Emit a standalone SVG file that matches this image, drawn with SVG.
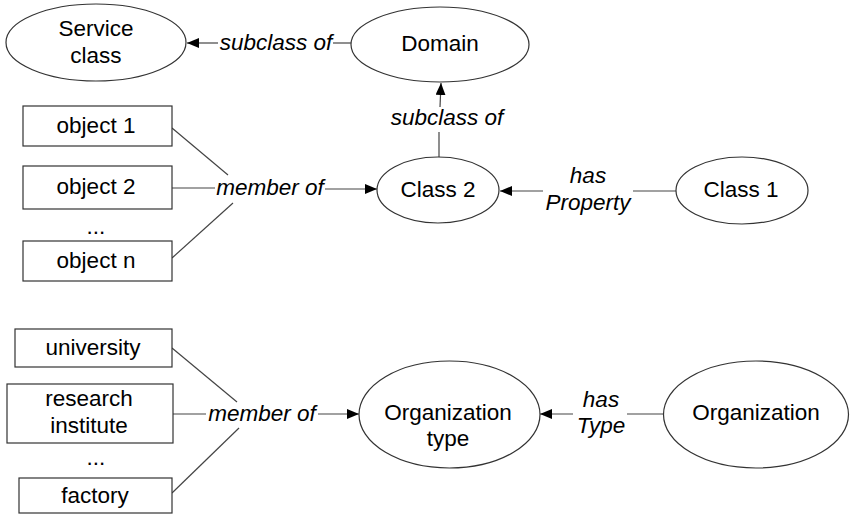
<svg xmlns="http://www.w3.org/2000/svg" width="850" height="515" viewBox="0 0 850 515">
  <style>
    .node ellipse, .node rect { fill: #ffffff; stroke: #333333; stroke-width: 1.2; }
    .lbl { font-family: "Liberation Sans", Arial, sans-serif; font-size: 22.5px; fill: #000000; text-anchor: middle; }
    .edge { font-family: "Liberation Sans", Arial, sans-serif; font-size: 22.5px; font-style: italic; fill: #000000; text-anchor: middle; }
    .conn line { stroke: #444444; stroke-width: 1.2; fill: none; }
  </style>
  <defs>
    <marker id="arrow" markerUnits="userSpaceOnUse" markerWidth="13" markerHeight="10" refX="12" refY="5" orient="auto">
      <path d="M0,0 L12,5 L0,10 z" fill="#000000"/>
    </marker>
  </defs>
  <rect width="850" height="515" fill="#ffffff"/>

  <!-- connectors -->
  <g id="connectors" class="conn">
    <!-- Domain subclass of Service class -->
    <line x1="351" y1="43" x2="333" y2="43"/>
    <line x1="218" y1="43" x2="187" y2="43" marker-end="url(#arrow)"/>
    <!-- Class 2 subclass of Domain -->
    <line x1="439" y1="157" x2="439" y2="132"/>
    <line x1="440" y1="107" x2="441" y2="83" marker-end="url(#arrow)"/>
    <!-- objects member of Class 2 -->
    <line x1="172" y1="128" x2="228" y2="175"/>
    <line x1="172" y1="188" x2="215" y2="188"/>
    <line x1="172" y1="258" x2="233" y2="203"/>
    <line x1="325" y1="189" x2="377" y2="189" marker-end="url(#arrow)"/>
    <!-- Class 1 has Property Class 2 -->
    <line x1="676" y1="191" x2="633" y2="191"/>
    <line x1="543" y1="191" x2="500" y2="191" marker-end="url(#arrow)"/>
    <!-- instances member of Organization type -->
    <line x1="172" y1="348" x2="237" y2="402"/>
    <line x1="173" y1="414" x2="206" y2="414"/>
    <line x1="172" y1="493" x2="239" y2="428"/>
    <line x1="318" y1="414" x2="359" y2="414" marker-end="url(#arrow)"/>
    <!-- Organization has Type Organization type -->
    <line x1="663" y1="414" x2="627" y2="414"/>
    <line x1="573" y1="414" x2="540" y2="414" marker-end="url(#arrow)"/>
  </g>

  <!-- connector labels -->
  <g id="edge-labels">
    <text class="edge" x="276" y="50">subclass of</text>
    <text class="edge" x="447" y="125">subclass of</text>
    <text class="edge" x="270" y="195">member of</text>
    <text class="edge" x="588" y="183">has</text>
    <text class="edge" x="588" y="210">Property</text>
    <text class="edge" x="262" y="421">member of</text>
    <text class="edge" x="601" y="407">has</text>
    <text class="edge" x="601" y="433">Type</text>
  </g>

  <!-- upper model -->
  <g id="service-class" class="node">
    <ellipse cx="96" cy="42.5" rx="90" ry="38.5"/>
    <text class="lbl" x="96" y="36">Service</text>
    <text class="lbl" x="96" y="63">class</text>
  </g>
  <g id="domain" class="node">
    <ellipse cx="440" cy="44.5" rx="89" ry="37.5"/>
    <text class="lbl" x="440" y="51">Domain</text>
  </g>
  <g id="class-2" class="node">
    <ellipse cx="438" cy="190" rx="61" ry="33"/>
    <text class="lbl" x="438" y="197">Class 2</text>
  </g>
  <g id="class-1" class="node">
    <ellipse cx="742" cy="190.5" rx="66" ry="33.5"/>
    <text class="lbl" x="741" y="197">Class 1</text>
  </g>
  <g id="object-1" class="node">
    <rect x="23" y="106" width="149" height="40"/>
    <text class="lbl" x="96" y="133">object 1</text>
  </g>
  <g id="object-2" class="node">
    <rect x="23" y="166" width="149" height="43"/>
    <text class="lbl" x="96" y="194">object 2</text>
  </g>
  <text class="lbl" x="96" y="234">...</text>
  <g id="object-n" class="node">
    <rect x="23" y="241" width="149" height="40"/>
    <text class="lbl" x="96" y="268">object n</text>
  </g>

  <!-- organization example -->
  <g id="university" class="node">
    <rect x="15" y="329" width="157" height="38"/>
    <text class="lbl" x="93" y="355">university</text>
  </g>
  <g id="research-institute" class="node">
    <rect x="7" y="384" width="166" height="59"/>
    <text class="lbl" x="89" y="406">research</text>
    <text class="lbl" x="89" y="433">institute</text>
  </g>
  <text class="lbl" x="96" y="465">...</text>
  <g id="factory" class="node">
    <rect x="19" y="478" width="153" height="35"/>
    <text class="lbl" x="95" y="503">factory</text>
  </g>
  <g id="organization-type" class="node">
    <ellipse cx="449.5" cy="414.5" rx="90.5" ry="53.5"/>
    <text class="lbl" x="448" y="420">Organization</text>
    <text class="lbl" x="448" y="446">type</text>
  </g>
  <g id="organization" class="node">
    <ellipse cx="756" cy="414.5" rx="92.5" ry="53.5"/>
    <text class="lbl" x="756" y="420">Organization</text>
  </g>
</svg>
